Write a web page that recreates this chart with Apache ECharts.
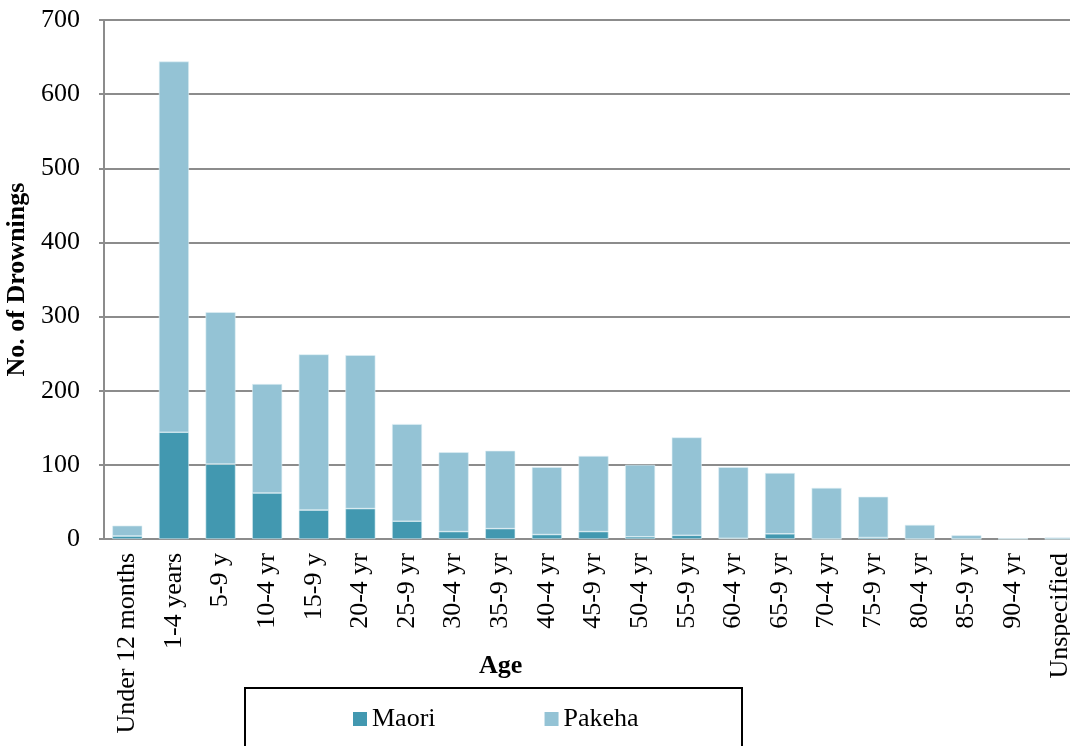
<!DOCTYPE html>
<html>
<head>
<meta charset="utf-8">
<script src="https://cdn.jsdelivr.net/npm/echarts@6/dist/echarts.min.js"></script>
<style>html,body{margin:0;padding:0;background:#fff;}#c{width:1070px;height:746px;}</style>
</head>
<body>
<div id="c"></div>
<script>
const categories = ['Under 12 months','1-4 years','5-9 y','10-4 yr','15-9 y','20-4 yr','25-9 yr','30-4 yr','35-9 yr','40-4 yr','45-9 yr','50-4 yr','55-9 yr','60-4 yr','65-9 yr','70-4 yr','75-9 yr','80-4 yr','85-9 yr','90-4 yr','Unspecified'];
const maori  = [4, 144, 101, 62, 39, 41, 24, 10, 14, 6, 10, 3, 5, 1, 7, 0, 2, 0, 0, 0, 0];
const pakeha = [14, 500, 205, 147, 210, 207, 131, 107, 105, 91, 102, 97, 132, 96, 82, 69, 55, 19, 5, 1, 2];
const yTicks = [0, 100, 200, 300, 400, 500, 600, 700];

const serif = '"Liberation Serif", "DejaVu Serif", serif';
const chart = echarts.init(document.getElementById('c'));
chart.setOption({
  animation: false,
  textStyle: { fontFamily: serif, color: '#000' },
  grid: { left: 104, top: 20, width: 979, bottom: 207, containLabel: false, outerBoundsMode: 'none' },
  legend: {
    left: 353, top: 706, padding: 0,
    itemWidth: 14, itemHeight: 14, itemGap: 109,
    icon: 'rect',
    itemStyle: { borderWidth: 0 },
    textStyle: { fontFamily: serif, fontSize: 26, color: '#000' },
    data: ['Maori', 'Pakeha']
  },
  graphic: [{
    type: 'rect', left: 244, top: 687,
    shape: { width: 497, height: 80 },
    style: { fill: 'transparent', stroke: '#000', lineWidth: 2 }
  }, {
    type: 'text', left: 479, top: 653,
    style: { text: 'Age', font: 'bold 26px "Liberation Serif", serif', fill: '#000' }
  }],
  xAxis: {
    type: 'category', data: categories,
    axisLine: { lineStyle: { color: '#8c8c8c', width: 2 } },
    axisTick: { show: false },
    axisLabel: { rotate: 90, fontFamily: serif, fontSize: 26, color: '#000', margin: 14, interval: 0 }
  },
  yAxis: {
    type: 'value', min: 0, max: 700, interval: 100,
    name: 'No. of Drownings', nameLocation: 'middle', nameGap: 74,
    nameTextStyle: { fontFamily: serif, fontSize: 26, fontWeight: 'bold', color: '#000' },
    axisLine: { show: true, lineStyle: { color: '#8c8c8c', width: 2 } },
    axisTick: { show: true, inside: false, length: 5, lineStyle: { color: '#8c8c8c', width: 2 } },
    axisLabel: { fontFamily: serif, fontSize: 26, color: '#000', margin: 24,
      formatter: v => yTicks.includes(v) ? String(v) : '' },
    splitLine: { lineStyle: { color: '#8c8c8c', width: 2 } }
  },
  series: [
    { name: 'Maori', type: 'bar', stack: 'a', data: maori, barWidth: 30,
      itemStyle: { color: '#4298b0', borderColor: '#d8ecf2', borderWidth: 0.6 } },
    { name: 'Pakeha', type: 'bar', stack: 'a', data: pakeha, barWidth: 30,
      itemStyle: { color: '#94c3d5', borderColor: '#e0f0f5', borderWidth: 0.6 } }
  ]
});
</script>
</body>
</html>
